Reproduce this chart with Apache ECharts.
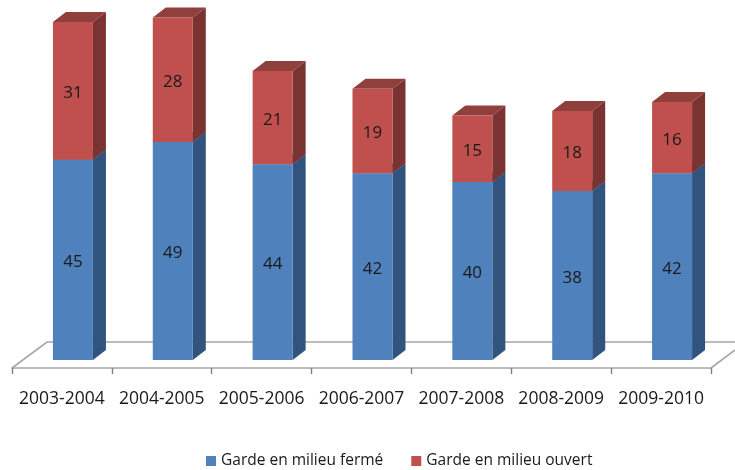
<!DOCTYPE html>
<html><head><meta charset="utf-8">
<style>html,body{margin:0;padding:0;background:#fff}#c{width:735px;height:470px}</style>
<script src="https://cdn.jsdelivr.net/npm/echarts@6/dist/echarts.min.js"></script>
</head><body><div id="c"></div>
<script>
const categories = ['2003-2004','2004-2005','2005-2006','2006-2007','2007-2008','2008-2009','2009-2010'];
const ferme = [45,49,44,42,40,38,42];
const ouvert = [31,28,21,19,15,18,16];
const serieNames = ['Garde en milieu fermé','Garde en milieu ouvert'];
const FONT = 'Open Sans';
const depthX = 13, depthY = 10, shiftX = 11, barW = 40;

function bar(colors){
  return function(params, api){
    const cat = api.value(0), lo = api.value(1), hi = api.value(2), val = api.value(3);
    const a = api.coord([cat, lo]), b = api.coord([cat, hi]);
    const x0 = a[0] + shiftX - barW/2, x1 = x0 + barW, y0 = a[1], y1 = b[1];
    return {type:'group', children:[
      {type:'polygon', shape:{points:[[x1,y0],[x1+depthX,y0-depthY],[x1+depthX,y1-depthY],[x1,y1]]}, style:{fill:colors.side}},
      {type:'polygon', shape:{points:[[x0,y1],[x0+depthX,y1-depthY],[x1+depthX,y1-depthY],[x1,y1]]}, style:{fill:colors.top}},
      {type:'rect', shape:{x:x0,y:y1,width:barW,height:y0-y1}, style:{fill:colors.front}},
      {type:'text', x:(x0+x1)/2, y:(y0+y1)/2+2.5, style:{text:String(val), fill:'#1a1a1a', font:'17px "'+FONT+'"', align:'center', verticalAlign:'middle'}}
    ]};
  };
}
function floor(params){
  const c = params.coordSys, front = c.y + c.height + 8, back = front - 26, L = c.x, R = c.x + c.width;
  const st = {stroke:'#a6a6a6', lineWidth:1.6, fill:null};
  return {type:'group', children:[
    {type:'polyline', shape:{points:[[L,front],[L+35,back],[R+24,back]]}, style:st},
    {type:'line', shape:{x1:R,y1:front,x2:R+24,y2:front-18}, style:st}
  ]};
}
const base1 = ferme.map((v,i)=>[i,0,v,v]);
const base2 = ouvert.map((v,i)=>[i,ferme[i],ferme[i]+v,v]);

const chart = echarts.init(document.getElementById('c'));
chart.setOption({
  animation:false,
  backgroundColor:'#fff',
  grid:{left:12, right:24, top:4.2, bottom:110},
  legend:{left:201, top:448, itemWidth:10, itemHeight:10, itemGap:28, icon:'rect',
    data:serieNames, textStyle:{fontFamily:FONT, fontSize:15.5, color:'#1a1a1a'}},
  xAxis:{type:'category', data:categories, offset:8,
    axisLine:{onZero:false, lineStyle:{color:'#a6a6a6', width:1.6}},
    axisTick:{show:true, length:6, lineStyle:{color:'#808080', width:1.4}},
    axisLabel:{fontFamily:FONT, fontSize:17.5, color:'#1a1a1a', margin:22, interval:0}},
  yAxis:{type:'value', min:0, max:80, show:false},
  series:[
    {type:'custom', name:'floor', silent:true, z:0, data:[[0,0,0,0]], renderItem:floor, encode:{x:0,y:1}},
    {type:'custom', name:serieNames[0], z:2, itemStyle:{color:'#4F81BD'}, data:base1, encode:{x:0,y:2},
      renderItem:bar({front:'#4F81BD', side:'#30547E', top:'#3F6797'})},
    {type:'custom', name:serieNames[1], z:3, itemStyle:{color:'#C0504D'}, data:base2, encode:{x:0,y:2},
      renderItem:bar({front:'#C0504D', side:'#7A3331', top:'#8F3F3C'})}
  ]
});
</script></body></html>
